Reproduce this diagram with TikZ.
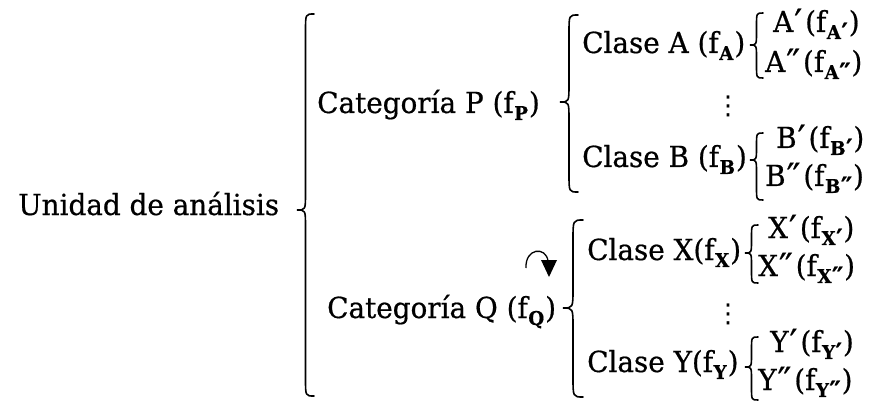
\documentclass[tikz,border=0pt]{standalone}
\usepackage{fontspec}
\setmainfont[FakeStretch=0.96,FakeBold=0.6]{DejaVu Serif}
\newfontfamily\symf{DejaVu Sans}
\begin{document}
\begin{tikzpicture}[x=1pt,y=-1pt,
  txt/.style={anchor=base west,inner sep=0pt,font=\fontsize{29}{34}\selectfont},
  dots/.style={inner sep=0pt,font=\symf\fontsize{26}{30}\selectfont},
  bracestyle/.style={line width=1.6pt,line cap=round}]
\newcommand{\sbs}[1]{\kern0.5pt\raisebox{-0.24em}{\fontsize{19}{22}\selectfont\bfseries #1}\kern1pt}
\newcommand{\bigpr}{\raisebox{-3pt}{\fontsize{36}{36}\selectfont ′}}
\newcommand{\smpr}{\raisebox{-2pt}{\fontsize{25}{25}\selectfont ′}}
\newcommand{\pa}{\kern1pt\bigpr\kern3pt}
\newcommand{\pb}{\kern1pt\bigpr\kern-2pt\bigpr\kern3pt}
\newcommand{\spa}{\kern0.5pt\smpr}
\newcommand{\spb}{\kern0.5pt\smpr\kern-1.5pt\smpr}
\newcommand{\cbrace}[5]{% tip x, end x, top y, mid y, bottom y
  \draw[bracestyle] (#2,#3) .. controls ({(#1+#2)/2},#3) .. ({(#1+#2)/2},{#3+1.0*(#2-#1)})
    -- ({(#1+#2)/2},{#4-1.0*(#2-#1)}) .. controls ({(#1+#2)/2},#4) .. (#1,#4)
    .. controls ({(#1+#2)/2},#4) .. ({(#1+#2)/2},{#4+1.0*(#2-#1)})
    -- ({(#1+#2)/2},{#5-1.0*(#2-#1)}) .. controls ({(#1+#2)/2},#5) .. (#2,#5);}
\useasboundingbox (0,0) rectangle (886,406);
\node[txt] (U) at (18,215) {Unidad de análisis};
\node[txt] (P) at (317,113) {Categoría P (f\sbs{P})};
\node[txt] (Q) at (327,318) {Categoría Q (f\sbs{Q})};
\node[txt] (CA) at (582,53) {Clase A (f\sbs{A})};
\node[txt] (CB) at (582,167) {Clase B (f\sbs{B})};
\node[txt] (CX) at (587,260) {Clase X(f\sbs{X})};
\node[txt] (CY) at (587,372) {Clase Y(f\sbs{Y})};
\node[txt] (A1) at (773,32) {A\pa(f\sbs{A\spa})};
\node[txt] (A2) at (765,72) {A\pb(f\sbs{A\spb})};
\node[txt] (B1) at (776,148) {B\pa(f\sbs{B\spa})};
\node[txt] (B2) at (765,186) {B\pb(f\sbs{B\spb})};
\node[txt] (X1) at (768,238) {X\pa(f\sbs{X\spa})};
\node[txt] (X2) at (758,276) {X\pb(f\sbs{X\spb})};
\node[txt] (Y1) at (770,352) {Y\pa(f\sbs{Y\spa})};
\node[txt] (Y2) at (758,390) {Y\pb(f\sbs{Y\spb})};
\node[dots] (d1) at (728,106) {⋮};
\node[dots] (d2) at (728,314) {⋮};
\cbrace{297}{314}{14}{210}{396}
\cbrace{560}{578}{15}{102}{192}
\cbrace{563}{583}{220}{308}{397}
\cbrace{750}{763}{13}{45}{78}
\cbrace{750}{763}{133}{160}{200}
\cbrace{745}{758}{225}{253}{283}
\cbrace{745}{758}{337}{367}{400}
\coordinate (r1) at (526,268);
\coordinate (r2) at (548,261);
\draw[line width=1.3pt] (r1) .. controls (525,248) and (546,246) .. (r2);
\fill (541,260) -- (557,260) -- (549,277) -- cycle;
\end{tikzpicture}
\end{document}
